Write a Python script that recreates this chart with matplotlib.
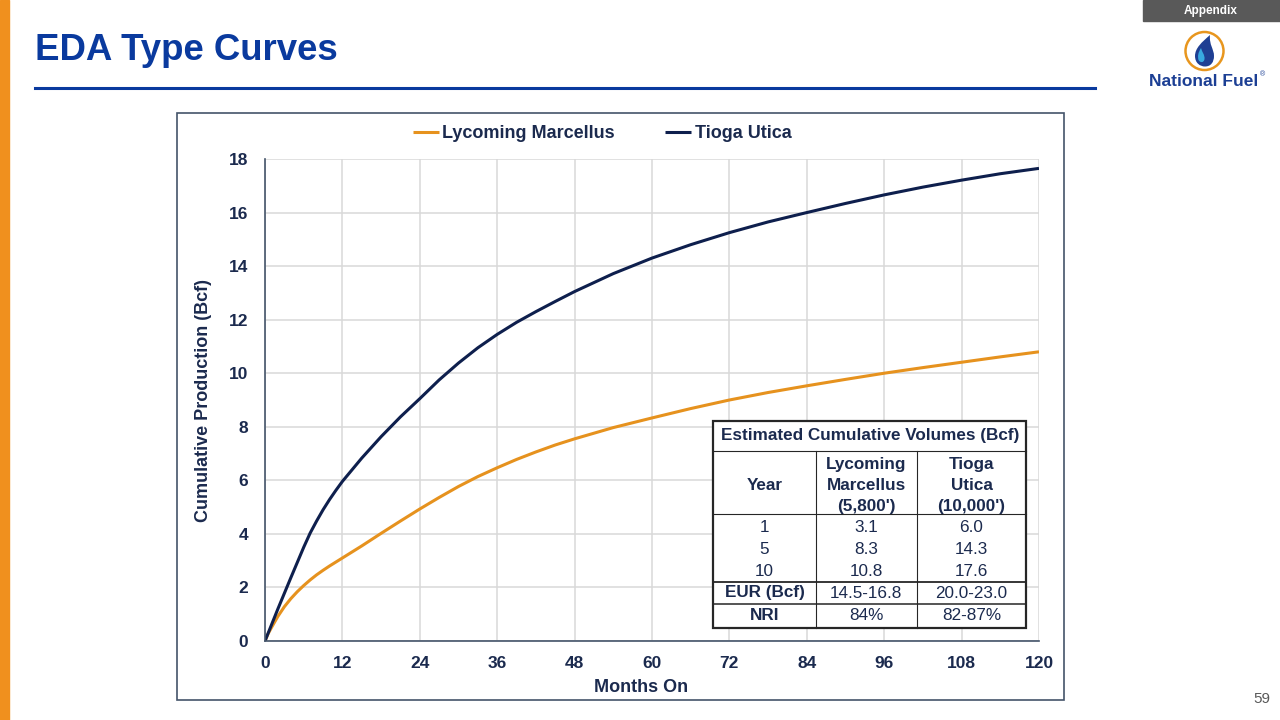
import matplotlib.pyplot as plt
from matplotlib.patches import Rectangle, Circle, PathPatch
from matplotlib.lines import Line2D
from matplotlib.path import Path

plt.rcParams['font.family'] = ['Liberation Sans', 'DejaVu Sans']

# cumulative production curves (Bcf)
months = [0, 0.5, 1, 2, 3, 4, 5, 6, 7, 8, 9, 10, 11, 12, 15, 18, 21, 24, 27, 30, 33,
          36, 39, 42, 45, 48, 54, 60, 66, 72, 78, 84, 90, 96, 102, 108, 114, 120]
marcellus = [0, 0.28, 0.5, 0.92, 1.28, 1.58, 1.84, 2.07, 2.28, 2.47, 2.64, 2.8, 2.95,
             3.1, 3.55, 4.02, 4.48, 4.93, 5.36, 5.77, 6.14, 6.47, 6.78, 7.06, 7.32,
             7.55, 7.97, 8.33, 8.68, 9.0, 9.28, 9.53, 9.77, 10.0, 10.21, 10.41, 10.61,
             10.8]
utica = [0, 0.3, 0.6, 1.2, 1.78, 2.36, 2.93, 3.5, 4.03, 4.48, 4.9, 5.28, 5.63, 5.96,
         6.83, 7.63, 8.37, 9.05, 9.75, 10.38, 10.95, 11.45, 11.9, 12.3, 12.68, 13.05,
         13.72, 14.3, 14.8, 15.25, 15.65, 16.0, 16.34, 16.66, 16.95, 17.21, 17.45,
         17.65]

x_ticks = list(range(0, 121, 12))
y_ticks = list(range(0, 19, 2))

# table values
tbl_title = "Estimated Cumulative Volumes (Bcf)"
tbl_header = ["Year", "Lycoming\nMarcellus\n(5,800')", "Tioga\nUtica\n(10,000')"]
tbl_years = ["1", "5", "10"]
tbl_marcellus = ["3.1", "8.3", "10.8"]
tbl_utica = ["6.0", "14.3", "17.6"]
tbl_eur = ["EUR (Bcf)", "14.5-16.8", "20.0-23.0"]
tbl_nri = ["NRI", "84%", "82-87%"]

ORANGE = "#E6921E"
NAVY = "#0E1F4D"
TXT = "#1B2A4E"
BLUE = "#0A3A9E"

W, H = 1280, 720


def px(x, y):
    return x / W, 1 - y / H


fig = plt.figure(figsize=(12.8, 7.2), dpi=100)

# slide decorations
fig.patches.append(Rectangle(px(0, 720), 9 / W, 1, transform=fig.transFigure,
                             color="#F0901E", zorder=0))
fig.text(*px(35, 50), "EDA Type Curves", fontsize=26.4, fontweight="bold",
         color=BLUE, va="center", ha="left")
fig.lines.append(Line2D([35 / W, 1095 / W], [1 - 88 / H] * 2, transform=fig.transFigure,
                        color=BLUE, lw=2.2))
fig.patches.append(Rectangle(px(1143, 21), 137 / W, 21 / H, transform=fig.transFigure,
                             color="#595959", zorder=1))
fig.text(*px(1211, 11), "Appendix", fontsize=8.5, fontweight="bold", color="white",
         ha="center", va="center")
fig.text(*px(1270, 699), "59", fontsize=11, color="#595959", ha="right", va="center")
fig.text(*px(1204, 81), "National Fuel", fontsize=12.5, fontweight="bold",
         color="#1C3F94", ha="center", va="center")
fig.text(*px(1260, 75), "®", fontsize=5, color="#1C3F94", ha="left", va="center")

# logo
lg = fig.add_axes([1180 / W, 1 - 76 / H, 50 / W, 50 / H])
lg.set_xlim(0, 50)
lg.set_ylim(0, 50)
lg.axis("off")
lg.add_patch(Circle((24.5, 25), 19, fill=False, ec="#E8961E", lw=1.8))
flame = Path([(30, 41), (22, 34), (15, 28), (15, 20), (15, 13), (20, 9.5), (25, 9.5),
              (31, 9.5), (34, 14), (34, 20), (34, 27), (29, 31), (30, 41)],
             [Path.MOVETO, Path.CURVE4, Path.CURVE4, Path.CURVE4, Path.CURVE4,
              Path.CURVE4, Path.CURVE4, Path.CURVE4, Path.CURVE4, Path.CURVE4,
              Path.CURVE4, Path.CURVE4, Path.CURVE4])
lg.add_patch(PathPatch(flame, fc="#1F3F93", ec="none"))
drop = Path([(21, 28), (18, 23), (17.5, 20), (18.5, 16), (20, 13), (24, 13), (24.5, 17),
             (25, 21), (22, 24), (21, 28)],
            [Path.MOVETO, Path.CURVE4, Path.CURVE4, Path.CURVE4, Path.CURVE4,
             Path.CURVE4, Path.CURVE4, Path.CURVE4, Path.CURVE4, Path.CURVE4])
lg.add_patch(PathPatch(drop, fc="#38A8E0", ec="none"))

# chart frame
fig.patches.append(Rectangle(px(177, 700), (1064 - 177) / W, (700 - 113) / H,
                             transform=fig.transFigure, fill=False, ec="#44546A",
                             lw=1.2, zorder=0))

ax = fig.add_axes([265 / W, 1 - 641 / H, (1039 - 265) / W, (641 - 159) / H])
ax.plot(months, marcellus, color=ORANGE, lw=2.2, label="Lycoming Marcellus",
        solid_capstyle="butt")
ax.plot(months, utica, color=NAVY, lw=2.2, label="Tioga Utica", solid_capstyle="butt")
ax.set_xlim(0, 120)
ax.set_ylim(0, 18)
ax.set_xticks(x_ticks)
ax.set_yticks(y_ticks)
ax.grid(True, color="#D9D9D9", lw=1.1)
ax.set_axisbelow(True)
for s in ["top", "right"]:
    ax.spines[s].set_visible(False)
for s in ["left", "bottom"]:
    ax.spines[s].set_color("#44546A")
    ax.spines[s].set_linewidth(1.2)
ax.tick_params(length=0, labelsize=12.5, labelcolor=TXT)
ax.tick_params(axis="y", pad=12)
ax.tick_params(axis="x", pad=11)
for lab in ax.get_xticklabels() + ax.get_yticklabels():
    lab.set_fontweight("bold")
ax.set_xlabel("Months On", fontsize=13, fontweight="bold", color=TXT)
ax.set_ylabel("Cumulative Production (Bcf)", fontsize=13, fontweight="bold", color=TXT)
ax.xaxis.set_label_coords((641 - 265) / 774, (641 - 679) / 482)
ax.yaxis.set_label_coords((212 - 265) / 774, 0.5)

leg = fig.legend(loc="center", bbox_to_anchor=px(602, 134), ncol=2, frameon=False,
                 handlelength=1.45, handletextpad=0.2, columnspacing=2.75,
                 prop={"size": 13, "weight": "bold"})
for t in leg.get_texts():
    t.set_color(TXT)

# table inset
tl, tr, tt, tb = 713, 1026, 421, 628
fig.patches.append(Rectangle(px(tl, tb), (tr - tl) / W, (tb - tt) / H,
                             transform=fig.transFigure, fc="white", ec="#262626",
                             lw=1.6, zorder=5))


def hline(y, lw):
    fig.lines.append(Line2D([tl / W, tr / W], [1 - y / H] * 2, transform=fig.transFigure,
                            color="#262626", lw=lw, zorder=6))


def vline(x, y0, y1):
    fig.lines.append(Line2D([x / W] * 2, [1 - y0 / H, 1 - y1 / H],
                            transform=fig.transFigure, color="#262626", lw=0.8, zorder=6))


hline(451, 0.8)
hline(514, 0.8)
hline(582, 1.3)
hline(604, 1.1)
vline(816, 451, 628)
vline(917, 451, 628)

cols = [764.5, 866, 971.5]
tk = dict(fontsize=12.3, color=TXT, ha="center", va="center", zorder=7)
fig.text(*px(870, 436), tbl_title, fontweight="bold", **tk)
for cx, h in zip(cols, tbl_header):
    fig.text(*px(cx, 485), h, fontweight="bold", linespacing=1.5, **tk)
for i, ry in enumerate([528, 550, 572]):
    for cx, v in zip(cols, [tbl_years[i], tbl_marcellus[i], tbl_utica[i]]):
        fig.text(*px(cx, ry), v, **tk)
for ry, row in [(593, tbl_eur), (616, tbl_nri)]:
    for j, (cx, v) in enumerate(zip(cols, row)):
        fig.text(*px(cx, ry), v, fontweight="bold" if j == 0 else "normal", **tk)

fig.savefig("out.png", dpi=100)
